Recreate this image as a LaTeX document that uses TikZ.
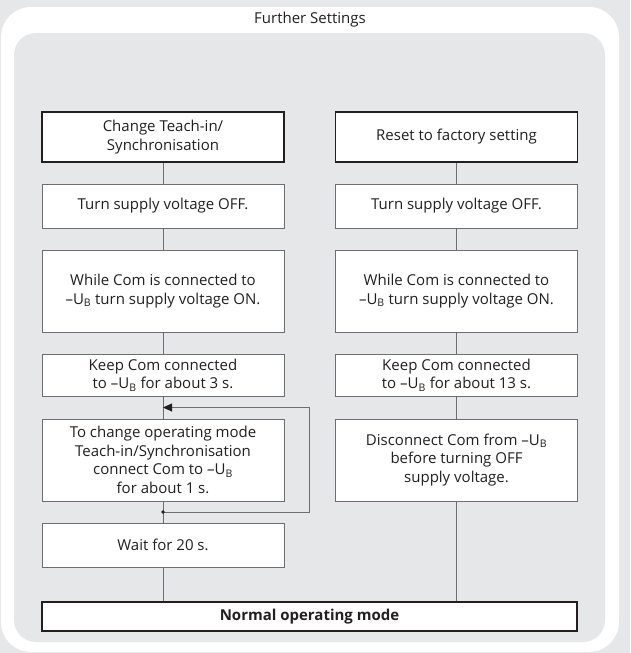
\documentclass[tikz,border=0pt]{standalone}
\usepackage{fontspec}
\setmainfont{Open Sans}
\usetikzlibrary{positioning,calc,arrows.meta}
\definecolor{fondgris}{HTML}{E6E7E8}
\definecolor{traitgris}{HTML}{6D6E71}
\definecolor{texte}{HTML}{231F20}
\newcommand{\moinsUB}{\textendash U\textsubscript{B}}

\begin{document}
\begin{tikzpicture}[x=1pt, y=-1pt, font=\fontsize{15}{18.5}\selectfont, text=texte]
    % Styles
    \tikzset{etape/.style={draw=traitgris, line width=0.8pt, fill=white, minimum width=242pt, align=center, inner sep=0pt}}%
    \tikzset{entete/.style={etape, draw=texte, line width=1.2pt}}%
    \tikzset{lien/.style={draw=traitgris, line width=0.9pt}}%
    \tikzset{fleche/.style={lien, -{Triangle[length=9pt, width=8pt, color=texte]}}}%

    % Cadres
    \useasboundingbox (0,0) rectangle (630,653);%
    \fill[fondgris] (0,0) rectangle (630,653);%
    \fill[white, rounded corners=30pt] (1,7) rectangle (619,652);%
    \fill[fondgris, rounded corners=22pt] (14,33) rectangle (605,642);%
    \node (titre) at (310,20) {Further Settings};%

    % Colonne gauche
    \pgfmathsetmacro{\xg}{163}%
    \node[entete, minimum height=50pt] (teach) at (\xg,137) {Change Teach-in/\\Synchronisation};%
    \node[etape, minimum height=44pt] (offg) at (\xg,206) {Turn supply voltage OFF.};%
    \node[etape, minimum height=82pt] (ong) at (\xg,291) {While Com is connected to\\\moinsUB{} turn supply voltage ON.};%
    \node[etape, minimum height=42pt] (keepg) at (\xg,375) {Keep Com connected\\to \moinsUB{} for about 3 s.};%
    \node[etape, minimum height=82pt] (mode) at (\xg,460) {To change operating mode\\Teach-in/Synchronisation\\connect Com to \moinsUB\\for about 1 s.};%
    \node[etape, minimum height=44pt] (wait) at (\xg,545) {Wait for 20 s.};%

    % Colonne droite
    \pgfmathsetmacro{\xd}{456.5}%
    \node[entete, minimum height=50pt] (reset) at (\xd,137) {Reset to factory setting};%
    \node[etape, minimum height=44pt] (offd) at (\xd,206) {Turn supply voltage OFF.};%
    \node[etape, minimum height=82pt] (ond) at (\xd,291) {While Com is connected to\\\moinsUB{} turn supply voltage ON.};%
    \node[etape, minimum height=42pt] (keepd) at (\xd,375) {Keep Com connected\\to \moinsUB{} for about 13 s.};%
    \node[etape, minimum height=82pt] (discon) at (\xd,460) {Disconnect Com from \moinsUB\\before turning OFF\\supply voltage.};%

    % Mode normal
    \node[entete, minimum width=535pt, minimum height=29pt, font=\fontsize{15}{18.5}\selectfont\bfseries] (normal) at (309.5,616.5) {Normal operating mode};%

    % Liaisons
    \draw[lien] (teach) -- (offg) -- (ong) -- (keepg) -- (mode) -- (wait);%
    \draw[lien] (wait.south) -- (wait.south |- normal.north);%
    \draw[lien] (reset) -- (offd) -- (ond) -- (keepd) -- (discon);%
    \draw[lien] (discon.south) -- (discon.south |- normal.north);%

    % Boucle
    \coordinate (cible) at ($(keepg.south)!0.5!(mode.north)$);%
    \coordinate (boucle) at ($(mode.south)!0.5!(wait.north)$);%
    \draw[fleche] (boucle) -- ++(146,0) |- (cible);%
    \fill[texte] (boucle) circle[radius=1.8pt];%
\end{tikzpicture}
\end{document}
